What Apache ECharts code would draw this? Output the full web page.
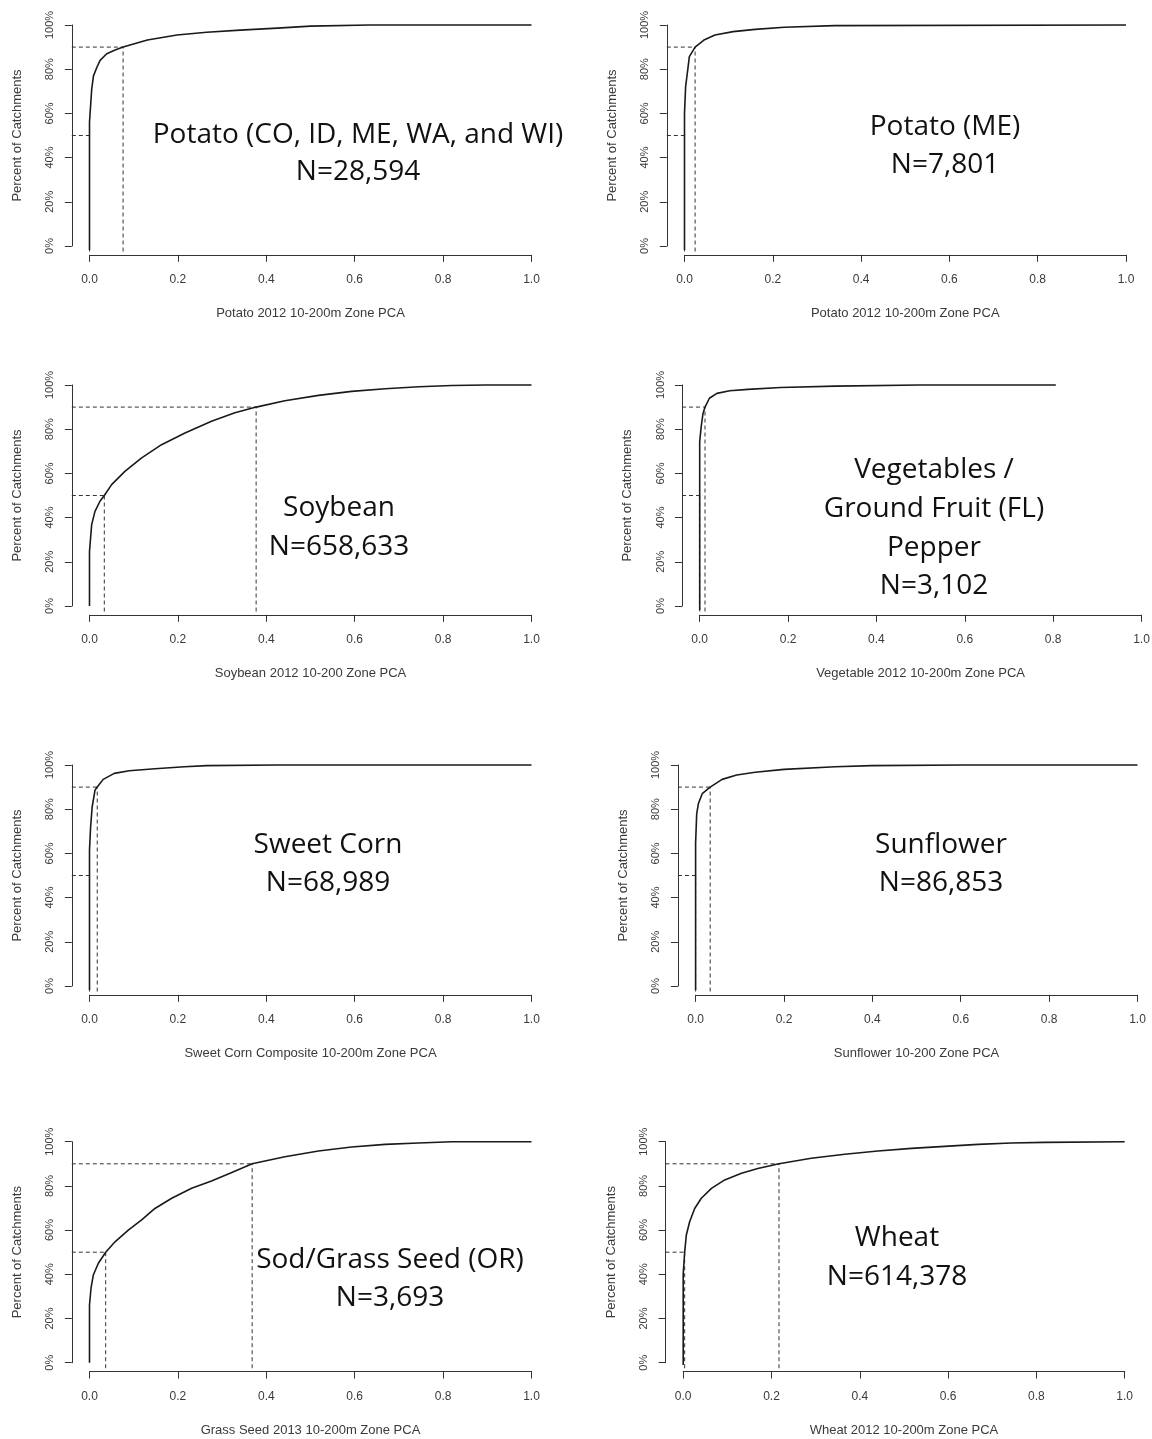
<!DOCTYPE html>
<html><head><meta charset="utf-8">
<script src="https://cdn.jsdelivr.net/npm/echarts@6/dist/echarts.min.js"></script>
<style>html,body{margin:0;padding:0;background:#fff}#c{width:1152px;height:1439px}</style>
</head><body><div id="c"></div>
<script>
// ---------- DATA ----------
const xTickStep = 0.2;
const yTickStep = 0.2;

const xAxisTitles = [
  'Potato 2012 10-200m Zone PCA',
  'Potato 2012 10-200m Zone PCA',
  'Soybean 2012 10-200 Zone PCA',
  'Vegetable 2012 10-200m Zone PCA',
  'Sweet Corn Composite 10-200m Zone PCA',
  'Sunflower 10-200 Zone PCA',
  'Grass Seed 2013 10-200m Zone PCA',
  'Wheat 2012 10-200m Zone PCA'
];
const yAxisTitle = 'Percent of Catchments';

const annotations = [
  ['Potato (CO, ID, ME, WA, and WI)', 'N=28,594'],
  ['Potato (ME)', 'N=7,801'],
  ['Soybean', 'N=658,633'],
  ['Vegetables /', 'Ground Fruit (FL)', 'Pepper', 'N=3,102'],
  ['Sweet Corn', 'N=68,989'],
  ['Sunflower', 'N=86,853'],
  ['Sod/Grass Seed (OR)', 'N=3,693'],
  ['Wheat', 'N=614,378']
];

// 50th and 90th percentile PCA values (dashed guide lines)
const medians = [0.0, 0.0, 0.0335, 0.0, 0.0, 0.0, 0.0366, 0.0033];
const p90s    = [0.076, 0.024, 0.377, 0.012, 0.0175, 0.033, 0.368, 0.217];
const guideBottom = -0.025;
const guideLeft = -0.04;

// cumulative curves (PCA value, cumulative fraction of catchments)
const potatoAllX = [0, 0, 0.003, 0.005, 0.009, 0.017, 0.024, 0.039, 0.058, 0.076, 0.131, 0.198, 0.265, 0.341, 0.425, 0.5, 0.634, 1.0];
const potatoAllY = [-0.018, 0.56, 0.56, 0.71, 0.77, 0.81, 0.84, 0.87, 0.887, 0.90, 0.932, 0.955, 0.967, 0.977, 0.986, 0.995, 1.0, 1.0];

const potatoMEX = [0, 0, 0.0025, 0.0075, 0.011, 0.024, 0.044, 0.069, 0.11, 0.16, 0.226, 0.34, 1.0];
const potatoMEY = [-0.018, 0.60, 0.72, 0.80, 0.857, 0.90, 0.932, 0.955, 0.97, 0.98, 0.99, 0.997, 1.0];

const soybeanX = [0, 0, 0.0049, 0.0124, 0.0237, 0.0335, 0.050, 0.080, 0.118, 0.163, 0.216, 0.276, 0.329, 0.377, 0.442, 0.518, 0.593, 0.669, 0.745, 0.820, 0.896, 1.0];
const soybeanY = [0, 0.247, 0.368, 0.428, 0.474, 0.50, 0.549, 0.609, 0.670, 0.730, 0.783, 0.836, 0.874, 0.90, 0.929, 0.953, 0.971, 0.983, 0.992, 0.998, 1.0, 1.0];

const vegetableX = [0, 0, 0.0033, 0.0074, 0.012, 0.022, 0.039, 0.068, 0.109, 0.183, 0.307, 0.497, 0.806];
const vegetableY = [-0.018, 0.744, 0.81, 0.87, 0.90, 0.94, 0.962, 0.974, 0.98, 0.989, 0.995, 1.0, 1.0];

const sweetCornX = [0, 0, 0.0025, 0.006, 0.0126, 0.0175, 0.031, 0.056, 0.09, 0.148, 0.215, 0.265, 0.425, 1.0];
const sweetCornY = [-0.018, 0.615, 0.72, 0.81, 0.887, 0.90, 0.935, 0.962, 0.974, 0.983, 0.992, 0.997, 1.0, 1.0];

const sunflowerX = [0, 0, 0.0025, 0.0066, 0.015, 0.033, 0.06, 0.093, 0.135, 0.2, 0.316, 0.399, 0.605, 1.0];
const sunflowerY = [-0.018, 0.646, 0.78, 0.827, 0.87, 0.90, 0.935, 0.955, 0.967, 0.98, 0.992, 0.997, 1.0, 1.0];

const grassSeedX = [0, 0, 0.0034, 0.0087, 0.020, 0.0366, 0.0577, 0.0878, 0.118, 0.148, 0.186, 0.231, 0.276, 0.322, 0.368, 0.442, 0.518, 0.593, 0.669, 0.744, 0.82, 1.0];
const grassSeedY = [0, 0.261, 0.337, 0.397, 0.45, 0.50, 0.547, 0.60, 0.646, 0.698, 0.744, 0.789, 0.822, 0.861, 0.90, 0.932, 0.958, 0.976, 0.988, 0.994, 1.0, 1.0];

const wheatX = [0, 0, 0.0033, 0.0071, 0.0146, 0.026, 0.041, 0.064, 0.094, 0.132, 0.169, 0.217, 0.290, 0.366, 0.441, 0.517, 0.592, 0.668, 0.743, 0.818, 1.0];
const wheatY = [-0.01, 0.40, 0.50, 0.578, 0.638, 0.698, 0.744, 0.789, 0.827, 0.857, 0.879, 0.90, 0.925, 0.943, 0.958, 0.970, 0.979, 0.988, 0.994, 0.997, 1.0];

const curvesX = [potatoAllX, potatoMEX, soybeanX, vegetableX, sweetCornX, sunflowerX, grassSeedX, wheatX];
const curvesY = [potatoAllY, potatoMEY, soybeanY, vegetableY, sweetCornY, sunflowerY, grassSeedY, wheatY];

// ---------- LAYOUT (pixels) ----------
const layout = [
  {px0: 89.5,  px1: 531.5,  py1: 25,     py0: 246,    ax: 358, ay: 135,  lh: 37.5},
  {px0: 684.5, px1: 1126,   py1: 25,     py0: 246,    ax: 945, ay: 127,  lh: 38},
  {px0: 89.5,  px1: 531.5,  py1: 385,    py0: 606,    ax: 339, ay: 508,  lh: 39},
  {px0: 699.7, px1: 1141.5, py1: 385,    py0: 606,    ax: 934, ay: 470,  lh: 38.8},
  {px0: 89.5,  px1: 531.5,  py1: 765,    py0: 986,    ax: 328, ay: 845,  lh: 38},
  {px0: 695.6, px1: 1137.5, py1: 765,    py0: 986,    ax: 941, ay: 845,  lh: 38},
  {px0: 89.5,  px1: 531.5,  py1: 1141.7, py0: 1362.7, ax: 390, ay: 1260, lh: 38.5},
  {px0: 683.2, px1: 1124.7, py1: 1141.7, py0: 1362.7, ax: 897, ay: 1238, lh: 39}
];
const PAD = 0.04; // plot region padding beyond [0,1]

const axisColor = '#333';
const textColor = '#3a3a3a';
const axisFont = '"Liberation Sans", Arial, sans-serif';

const grids = [], xAxes = [], yAxes = [], series = [], graphics = [];
const hiddenAxis = (gi, lo, hi) => ({gridIndex: gi, type: 'value', min: lo, max: hi, show: false,
  axisLine: {show: false, onZero: false}, splitLine: {show: false}});

layout.forEach((L, i) => {
  const w = L.px1 - L.px0, h = L.py0 - L.py1;
  const gData = 3 * i, gX = 3 * i + 1, gY = 3 * i + 2;
  grids.push({left: L.px0 - PAD * w, top: L.py1 - PAD * h, width: (1 + 2 * PAD) * w, height: (1 + 2 * PAD) * h, outerBoundsMode: 'none'});
  grids.push({left: L.px0, top: L.py1 - PAD * h, width: w, height: (1 + 2 * PAD) * h, outerBoundsMode: 'none'});
  grids.push({left: L.px0 - PAD * w, top: L.py1, width: (1 + 2 * PAD) * w, height: h, outerBoundsMode: 'none'});

  xAxes.push(hiddenAxis(gData, -PAD, 1 + PAD));
  yAxes.push(hiddenAxis(gData, -PAD, 1 + PAD));

  xAxes.push({
    gridIndex: gX, type: 'value', position: 'bottom', min: 0, max: 1, interval: xTickStep,
    axisLine: {show: true, onZero: false, lineStyle: {color: axisColor, width: 1}},
    axisTick: {show: true, length: 7, lineStyle: {color: axisColor, width: 1}},
    axisLabel: {margin: 19, fontSize: 12, color: textColor, fontFamily: axisFont,
      formatter: v => v.toFixed(1)},
    splitLine: {show: false},
    name: xAxisTitles[i], nameLocation: 'middle', nameGap: 52,
    nameTextStyle: {fontSize: 13, color: textColor, fontFamily: axisFont}
  });
  yAxes.push(hiddenAxis(gX, 0, 1));

  xAxes.push(hiddenAxis(gY, 0, 1));
  yAxes.push({
    gridIndex: gY, type: 'value', position: 'left', min: 0, max: 1, interval: yTickStep,
    axisLine: {show: true, onZero: false, lineStyle: {color: axisColor, width: 1}},
    axisTick: {show: true, length: 7, lineStyle: {color: axisColor, width: 1}},
    axisLabel: {margin: 16, fontSize: 11, color: textColor, fontFamily: axisFont, rotate: 90,
      formatter: v => Math.round(v * 100) + '%'},
    splitLine: {show: false},
    name: yAxisTitle, nameLocation: 'middle', nameGap: 48,
    nameTextStyle: {fontSize: 13, color: textColor, fontFamily: axisFont}
  });

  const dashStyle = {color: '#333', width: 1, type: [4, 3]};
  const guides = [
    [[guideLeft, 0.5], [medians[i], 0.5]],
    [[medians[i], guideBottom], [medians[i], 0.5]],
    [[guideLeft, 0.9], [p90s[i], 0.9]],
    [[p90s[i], guideBottom], [p90s[i], 0.9]]
  ];
  guides.forEach(g => series.push({
    type: 'line', xAxisIndex: gData, yAxisIndex: gData, data: g, showSymbol: false, symbol: 'none',
    silent: true, lineStyle: dashStyle, z: 2, animation: false
  }));

  series.push({
    type: 'line', xAxisIndex: gData, yAxisIndex: gData,
    data: curvesX[i].map((x, k) => [x, curvesY[i][k]]),
    showSymbol: false, symbol: 'none', silent: true,
    lineStyle: {color: '#1a1a1a', width: 1.6, join: 'round'}, z: 3, animation: false
  });

  annotations[i].forEach((t, k) => graphics.push({
    type: 'text', x: L.ax, y: L.ay + k * L.lh, silent: true,
    style: {text: t, fill: '#111', fontSize: 28, fontFamily: '"Open Sans", "Noto Sans", sans-serif',
      align: 'center', verticalAlign: 'middle'}
  }));
});

const chart = echarts.init(document.getElementById('c'), null, {renderer: 'canvas'});
chart.setOption({
  backgroundColor: '#fff',
  animation: false,
  grid: grids, xAxis: xAxes, yAxis: yAxes, series: series,
  graphic: graphics
});
</script></body></html>
